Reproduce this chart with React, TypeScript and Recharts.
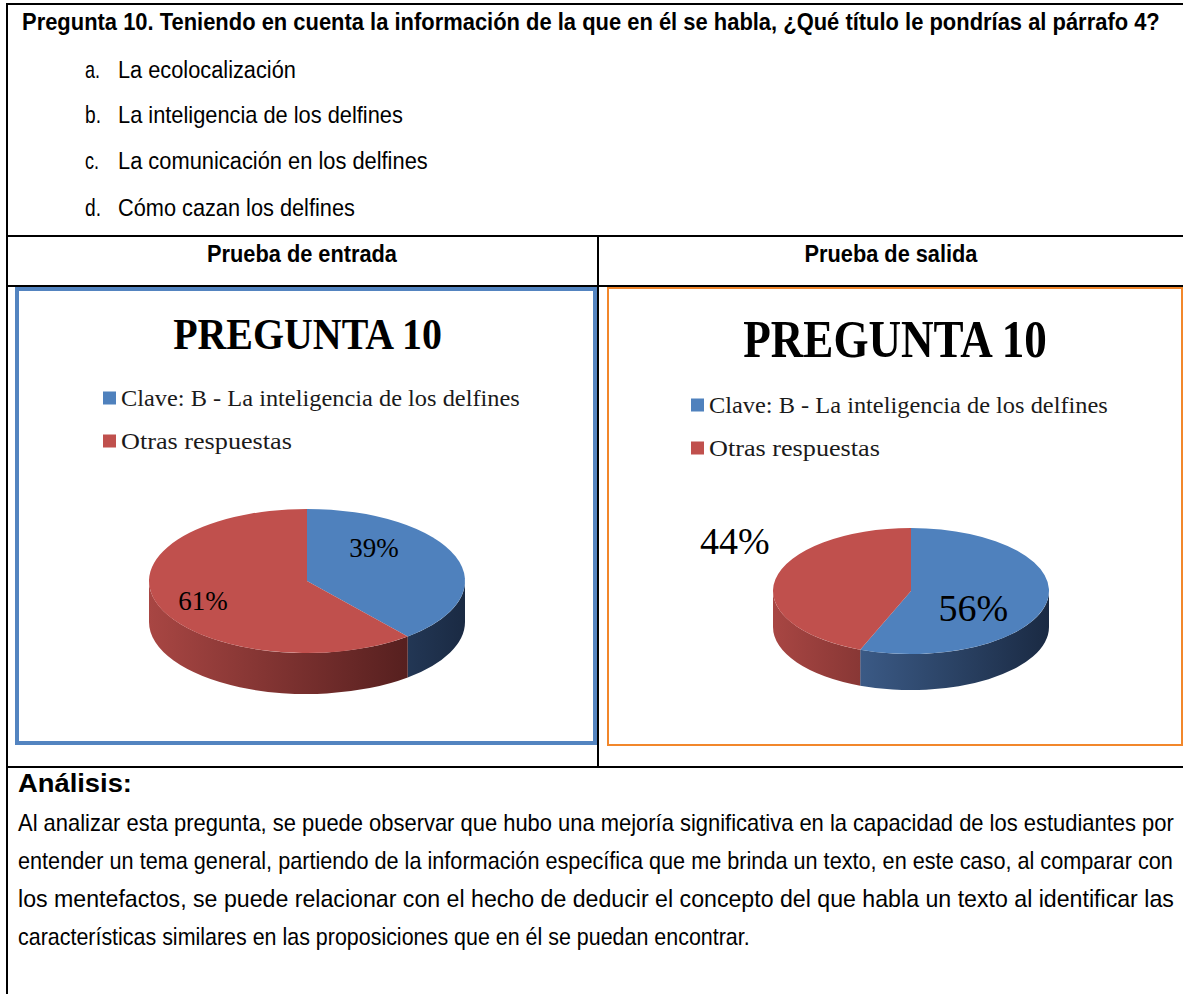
import React from "react";
import { PieChart, Pie, Cell, Legend } from "recharts";

// porcentajes de respuesta por prueba
const categorias = ["Clave: B - La inteligencia de los delfines", "Otras respuestas"];
const entrada = [39, 61];
const salida = [56, 44];

const pregunta =
  "Pregunta 10. Teniendo en cuenta la información de la que en él se habla, ¿Qué título le pondrías al párrafo 4?";
const letras = ["a.", "b.", "c.", "d."];
const opciones = [
  "La ecolocalización",
  "La inteligencia de los delfines",
  "La comunicación en los delfines",
  "Cómo cazan los delfines",
];
const encabezados = ["Prueba de entrada", "Prueba de salida"];
const tituloGrafico = "PREGUNTA 10";
const analisis = [
  "Al analizar esta pregunta, se puede observar que hubo una mejoría significativa en la capacidad de los estudiantes por",
  "entender un tema general, partiendo de la información específica que me brinda un texto, en este caso, al comparar con",
  "los mentefactos, se puede relacionar con el hecho de deducir el concepto del que habla un texto al identificar las",
  "características similares en las proposiciones que en él se puedan encontrar.",
];

const SANS = "'Liberation Sans', Arial, sans-serif";
const SERIF = "'Liberation Serif', 'Times New Roman', serif";
const TOP = ["#4f81bd", "#c0504d"];
const SIDE = [
  ["#4a70a4", "#1a2a43"],
  ["#a84643", "#441717"],
];
const RAD = Math.PI / 180;

const graficos = [
  {
    id: "entrada",
    values: entrada,
    left: 15, top: 287, w: 582, h: 459,
    cx: 292, cy: 294, r: 158, tilt: 0.456, depth: 41,
    labelSize: 27,
    labelK: [[0.45, 1.35], [0.7, 0.82]],
    legX: 88, legY: 111, legGap: 43,
  },
  {
    id: "salida",
    values: salida,
    left: 607, top: 287, w: 576, h: 459,
    cx: 304, cy: 304, r: 138, tilt: 0.457, depth: 36,
    labelSize: 38,
    labelK: [[0.46, 1.44], [1.3, 4.2]],
    legX: 84, legY: 118, legGap: 43,
  },
];
const legendWidths = [399, 171];

type Cfg = (typeof graficos)[number];

// ancho natural del texto, para comprimirlo al ancho del documento
const ctx = document.createElement("canvas").getContext("2d");
function medir(texto: string, size: number, bold: boolean, font: string) {
  if (!ctx) return 0;
  ctx.font = `${bold ? "bold " : ""}${size}px ${font}`;
  return ctx.measureText(texto).width;
}

function T({ x, y, w, size, bold = false, anchor = "start", font = SANS, fill = "#000", children }: any) {
  const nat = medir(String(children), size, bold, font);
  const sx = w && nat > 0 ? w / nat : 1;
  return (
    <text
      transform={`translate(${x},${y}) scale(${sx.toFixed(4)},1)`}
      fontSize={size}
      fontWeight={bold ? 700 : 400}
      textAnchor={anchor}
      fontFamily={font}
      fill={fill}
    >
      {children}
    </text>
  );
}

// sector elíptico con su pared frontal
function Slice3D(props: any) {
  const { cx, cy, outerRadius: rx, startAngle, endAngle, fill, tilt, depth, gid } = props;
  const i = Math.max(0, TOP.indexOf(fill));
  const ry = rx * tilt;
  const pt = (a: number, dy = 0) =>
    `${cx + rx * Math.cos(a * RAD)},${cy - ry * Math.sin(a * RAD) + dy}`;
  const hi = Math.max(startAngle, endAngle);
  const lo = Math.min(startAngle, endAngle);
  const large = hi - lo > 180 ? 1 : 0;
  const topPath = `M${cx},${cy} L${pt(hi)} A${rx},${ry} 0 ${large} 1 ${pt(lo)} Z`;
  const walls: string[] = [];
  for (const [fHi, fLo] of [[0, -180], [-360, -540], [360, 180]]) {
    const a1 = Math.min(hi, fHi);
    const a2 = Math.max(lo, fLo);
    if (a1 > a2) {
      walls.push(
        `M${pt(a1)} A${rx},${ry} 0 0 1 ${pt(a2)} L${pt(a2, depth)} A${rx},${ry} 0 0 0 ${pt(a1, depth)} Z`
      );
    }
  }
  const gradId = `${gid}-side-${i}`;
  return (
    <g>
      <defs>
        <linearGradient id={gradId} gradientUnits="userSpaceOnUse" x1={cx - rx} x2={cx + rx} y1={0} y2={0}>
          <stop offset="0%" stopColor={SIDE[i][0]} />
          <stop offset="100%" stopColor={SIDE[i][1]} />
        </linearGradient>
      </defs>
      {walls.map((d, k) => (
        <path key={k} d={d} fill={`url(#${gradId})`} />
      ))}
      <path d={topPath} fill={TOP[i]} />
    </g>
  );
}

function Grafico3D({ cfg }: { cfg: Cfg }) {
  const data = cfg.values.map((v, i) => ({ name: categorias[i], value: v }));
  const shape = (p: any) => <Slice3D {...p} tilt={cfg.tilt} depth={cfg.depth} gid={cfg.id} />;

  const renderLabel = (p: any) => {
    const k = cfg.labelK[p.index] ?? [0.6, 1];
    const rx = p.outerRadius;
    const ry = rx * cfg.tilt;
    const x = p.cx + rx * k[0] * Math.cos(p.midAngle * RAD);
    const y = p.cy - ry * k[1] * Math.sin(p.midAngle * RAD);
    return (
      <text
        key={`l-${p.index}`}
        x={x}
        y={y + cfg.labelSize * 0.34}
        textAnchor="middle"
        fontSize={cfg.labelSize}
        fontFamily={SERIF}
        fill="#000"
      >
        {`${p.value}%`}
      </text>
    );
  };

  const renderLegend = ({ payload }: any) => (
    <svg width={cfg.w} height={cfg.legY + cfg.legGap * 2} style={{ display: "block" }}>
      {(payload ?? []).map((e: any, i: number) => {
        const cyRow = cfg.legY + i * cfg.legGap;
        return (
          <g key={i}>
            <rect x={cfg.legX} y={cyRow - 6.5} width={13} height={13} fill={e.color ?? TOP[i]} />
            <T x={cfg.legX + 18} y={cyRow + 8} w={legendWidths[i]} size={24} font={SERIF} fill="#1a1a1a">
              {e.value}
            </T>
          </g>
        );
      })}
    </svg>
  );

  return (
    <div style={{ position: "absolute", left: cfg.left, top: cfg.top, width: cfg.w, height: cfg.h }}>
      <PieChart width={cfg.w} height={cfg.h} margin={{ top: 0, right: 0, bottom: 0, left: 0 }}>
        <Legend
          layout="horizontal"
          verticalAlign="middle"
          align="center"
          content={renderLegend}
          wrapperStyle={{ left: 0, top: 0, width: cfg.w }}
        />
        <Pie
          data={data}
          dataKey="value"
          nameKey="name"
          cx={cfg.cx}
          cy={cfg.cy}
          outerRadius={cfg.r}
          startAngle={90}
          endAngle={-270}
          stroke="none"
          isAnimationActive={false}
          shape={shape}
          activeShape={shape}
          inactiveShape={shape}
          label={renderLabel}
          labelLine={false}
        >
          {data.map((_, i) => (
            <Cell key={i} fill={TOP[i]} />
          ))}
        </Pie>
      </PieChart>
    </div>
  );
}

export default function App() {
  const optY = [78, 123, 169, 216];
  const optW = [178, 285, 310, 237];
  const letW = [15, 16, 14, 16];
  const anaY = [831, 869, 907, 945];
  const anaW = [1156, 1155, 1156, 732];
  return (
    <div
      style={{
        position: "absolute",
        left: 0,
        top: 0,
        width: 1183,
        height: 994,
        background: "#fff",
        overflow: "hidden",
      }}
    >
      <svg width={1183} height={994} style={{ position: "absolute", left: 0, top: 0 }}>
        {/* tabla */}
        <g stroke="#000" strokeWidth={2}>
          <line x1={6} y1={4} x2={1183} y2={4} />
          <line x1={7} y1={3} x2={7} y2={994} />
          <line x1={6} y1={236} x2={1183} y2={236} />
          <line x1={6} y1={286} x2={1183} y2={286} />
          <line x1={6} y1={767} x2={1183} y2={767} />
          <line x1={598} y1={236} x2={598} y2={767} />
        </g>
        <rect x={17} y={289} width={578} height={454} fill="none" stroke="#5384c0" strokeWidth={4} />
        <rect x={608} y={288} width={574} height={457} fill="none" stroke="#f2872b" strokeWidth={2} />

        <T x={22} y={30} w={1138} size={23} bold>
          {pregunta}
        </T>
        {opciones.map((o, i) => (
          <g key={i}>
            <T x={85} y={optY[i]} w={letW[i]} size={24}>
              {letras[i]}
            </T>
            <T x={118} y={optY[i]} w={optW[i]} size={24}>
              {o}
            </T>
          </g>
        ))}
        <T x={302} y={262} w={190} size={23} bold anchor="middle">
          {encabezados[0]}
        </T>
        <T x={891} y={262} w={173} size={23} bold anchor="middle">
          {encabezados[1]}
        </T>

        <T x={307.5} y={349} w={271} size={44} bold anchor="middle" font={SERIF}>
          {tituloGrafico}
        </T>
        <T x={895} y={357} w={306} size={52} bold anchor="middle" font={SERIF}>
          {tituloGrafico}
        </T>

        <T x={18} y={792} w={114} size={26} bold>
          Análisis:
        </T>
        {analisis.map((l, i) => (
          <T key={i} x={18} y={anaY[i]} w={anaW[i]} size={24}>
            {l}
          </T>
        ))}
      </svg>
      {graficos.map((g) => (
        <Grafico3D key={g.id} cfg={g} />
      ))}
    </div>
  );
}
